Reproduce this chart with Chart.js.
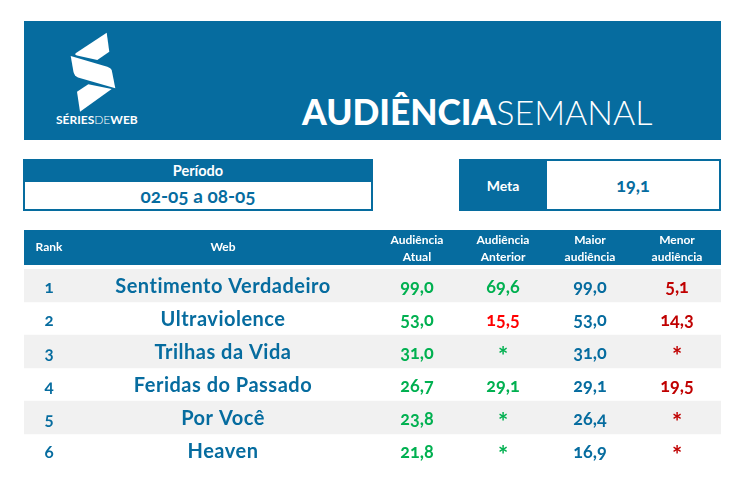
<!DOCTYPE html>
<html lang="pt">
<head>
<meta charset="utf-8">
<title>Audiência Semanal</title>
<script src="https://cdn.jsdelivr.net/npm/chart.js"></script>
<style>
  html, body { margin: 0; padding: 0; background: #fff; }
  body { width: 748px; height: 502px; position: relative; overflow: hidden; font-family: Lato, "Open Sans", sans-serif; color: #066c9f; font-feature-settings: "onum"; }
  .abs { position: absolute; box-sizing: border-box; }
  .blue { background: #066c9f; color: #fff; }
  .c { display: flex; align-items: center; justify-content: center; font-weight: 700; }
  #table { position: absolute; left: 24px; top: 230px; }
</style>
</head>
<body>
<div class="abs blue" style="left:24px;top:21px;width:697px;height:119px"></div>
<svg class="abs" style="left:0;top:0" width="748" height="140" fill="#fff">
  <path d="M106.7 32.7 L109.3 51.7 L97.3 60 L77 55.5 Q74 54.5 76 53 Z"/>
  <path d="M70.7 56 L107.3 66.7 Q111 68 111.7 70 L115.3 88.3 L78 77.5 Q74.5 76 73.5 72 Z"/>
  <path d="M88.3 84.3 L111.7 89 L80 111.7 L77 91.7 Z"/>
</svg>
<div class="abs" style="left:56px;top:112px;font-size:12px;font-weight:700;color:#fff;white-space:nowrap;line-height:16px">SÉRIES<span style="font-weight:300">DE</span>WEB</div>
<div class="abs" style="left:302px;top:91px;font-size:35.3px;font-weight:900;color:#fff;white-space:nowrap;line-height:42px">AUDIÊNCIA<span style="font-weight:300;font-size:34px">SEMANAL</span></div>

<div class="abs" style="left:23px;top:159px;width:350px;height:52px;border:2px solid #066c9f"></div>
<div class="abs blue c" style="left:23px;top:159px;width:350px;height:23px;font-size:14.5px">Período</div>
<div class="abs c" style="left:25px;top:182px;width:346px;height:27px;font-size:19px">02-05 a 08-05</div>

<div class="abs" style="left:459px;top:159px;width:262px;height:52px;border:2px solid #066c9f"></div>
<div class="abs blue c" style="left:459px;top:159px;width:88px;height:52px;font-size:14px">Meta</div>
<div class="abs c" style="left:547px;top:161px;width:172px;height:48px;font-size:18px" id="meta"></div>

<canvas id="table" width="697" height="237"></canvas>

<script>
const META = 19.1;

const ranks = ["1", "2", "3", "4", "5", "6"];
const webs = ["Sentimento Verdadeiro", "Ultraviolence", "Trilhas da Vida", "Feridas do Passado", "Por Você", "Heaven"];
const atual = [99.0, 53.0, 31.0, 26.7, 23.8, 21.8];
const anterior = [69.6, 15.5, null, 29.1, null, null];
const maior = [99.0, 53.0, 31.0, 29.1, 26.4, 16.9];
const menor = [5.1, 14.3, null, 19.5, null, null];
const headers = [["Rank"], ["Web"], ["Audiência", "Atual"], ["Audiência", "Anterior"], ["Maior", "audiência"], ["Menor", "audiência"]];

const BLUE = "#066c9f", GREEN = "#00b050", RED = "#ff0000", DARKRED = "#c00000", STRIPE = "#f1f1f1";
const TABLE_W = 697;
const colX = [25, 199, 393, 479, 566, 653]; // centro das colunas
const FONT = "Lato, 'Open Sans', sans-serif";

// 99.0 -> "99,0", sem valor -> "*"
function fmt(v) { return v === null ? "*" : v.toFixed(1).replace(".", ","); }

document.getElementById("meta").textContent = fmt(META);

const tablePlugin = {
  id: "tableText",
  beforeDraw(chart) {
    const { ctx, chartArea } = chart;
    ctx.save();
    ctx.fillStyle = BLUE;
    ctx.fillRect(chartArea.left, 0, chartArea.width, chartArea.top - 4);
    ctx.restore();
  },
  afterDatasetsDraw(chart) {
    const { ctx, scales: { x, y } } = chart;
    ctx.save();
    ctx.textAlign = "center";
    ctx.textBaseline = "middle";

    // cabeçalho
    ctx.fillStyle = "#fff";
    ctx.font = "700 12px " + FONT;
    headers.forEach((lines, c) => {
      const cx = x.getPixelForValue(colX[c]);
      if (lines.length === 1) ctx.fillText(lines[0], cx, 17.5);
      else lines.forEach((l, i) => ctx.fillText(l, cx, 10 + i * 17.5));
    });

    const cell = (text, c, r, color, font, dy) => {
      ctx.fillStyle = color;
      ctx.font = font;
      ctx.fillText(text, x.getPixelForValue(colX[c]), y.getPixelForValue(ranks[r]) + dy);
    };
    const valFont = "700 18px " + FONT;
    const starFont = "700 24px " + FONT;
    const val = (v, c, r, color) => {
      if (v === null) cell("*", c, r, color, starFont, 6);
      else cell(fmt(v), c, r, color, valFont, 2);
    };
    ranks.forEach((rank, r) => {
      cell(rank, 0, r, BLUE, "700 17px " + FONT, 2);
      ctx.letterSpacing = "0.5px";
      cell(webs[r], 1, r, BLUE, "700 20px " + FONT, 1);
      ctx.letterSpacing = "0px";
      val(atual[r], 2, r, GREEN);
      val(anterior[r], 3, r, anterior[r] !== null && anterior[r] < META ? RED : GREEN);
      val(maior[r], 4, r, BLUE);
      val(menor[r], 5, r, DARKRED);
    });
    ctx.restore();
  }
};

new Chart(document.getElementById("table"), {
  type: "bar",
  data: {
    labels: ranks,
    datasets: [{
      data: ranks.map((_, i) => (i % 2 === 0 ? [0, TABLE_W] : null)),
      backgroundColor: STRIPE,
      borderWidth: 0,
      barPercentage: 1,
      categoryPercentage: 1
    }]
  },
  options: {
    indexAxis: "y",
    responsive: false,
    animation: false,
    devicePixelRatio: 1,
    layout: { padding: { top: 39 } },
    plugins: { legend: { display: false }, tooltip: { enabled: false } },
    scales: {
      x: { type: "linear", min: 0, max: TABLE_W, display: false },
      y: { type: "category", display: false }
    }
  },
  plugins: [tablePlugin]
});
</script>
</body>
</html>
